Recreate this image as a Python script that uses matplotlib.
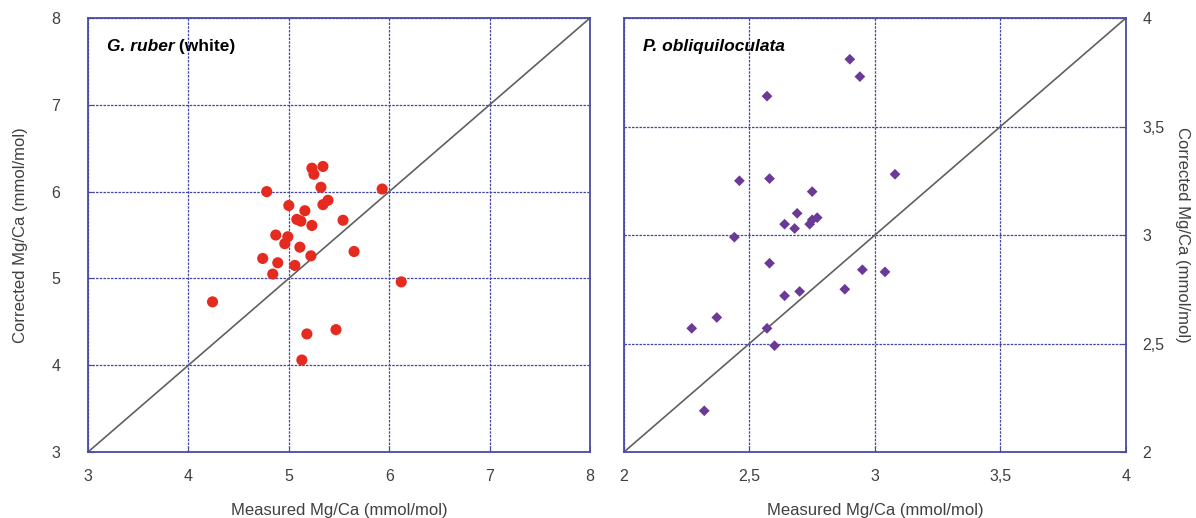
import matplotlib
matplotlib.use("Agg")
import matplotlib.pyplot as plt
from matplotlib.ticker import FuncFormatter

plt.rcParams['font.family'] = ['Liberation Sans', 'DejaVu Sans']

# G. ruber (white): measured vs corrected Mg/Ca
ruber_measured = [5.23, 5.34, 5.25, 4.78, 5.32, 5.93, 5.00, 5.39, 5.34, 5.16,
                  5.08, 5.12, 5.23, 5.54, 4.87, 4.99, 4.96, 5.11, 5.65, 4.74,
                  5.22, 4.89, 5.06, 4.84, 6.12, 4.24, 5.18, 5.47, 5.13]
ruber_corrected = [6.27, 6.29, 6.20, 6.00, 6.05, 6.03, 5.84, 5.90, 5.85, 5.78,
                   5.68, 5.66, 5.61, 5.67, 5.50, 5.48, 5.40, 5.36, 5.31, 5.23,
                   5.26, 5.18, 5.15, 5.05, 4.96, 4.73, 4.36, 4.41, 4.06]

# P. obliquiloculata
obliq_measured = [2.90, 2.94, 2.57, 2.46, 2.58, 3.08, 2.75, 2.69, 2.64, 2.68,
                  2.74, 2.75, 2.77, 2.44, 2.58, 2.95, 3.04, 2.88, 2.70, 2.64,
                  2.37, 2.27, 2.57, 2.60, 2.32]
obliq_corrected = [3.81, 3.73, 3.64, 3.25, 3.26, 3.28, 3.20, 3.10, 3.05, 3.03,
                   3.05, 3.07, 3.08, 2.99, 2.87, 2.84, 2.83, 2.75, 2.74, 2.72,
                   2.62, 2.57, 2.57, 2.49, 2.19]

ruber_ticks = [3, 4, 5, 6, 7, 8]
obliq_ticks = [2, 2.5, 3, 3.5, 4]

spine_col = '#4b4ba6'
grid_col = '#4545a6'
text_col = '#404040'

fig = plt.figure(figsize=(11.96, 5.18), dpi=100)
ax1 = fig.add_axes([0.0736, 0.1274, 0.4197, 0.8378])
ax2 = fig.add_axes([0.5217, 0.1274, 0.4197, 0.8378])


def comma(v, pos):
    return ('%g' % v).replace('.', ',')


def style(ax, ticks):
    ax.set_xlim(ticks[0], ticks[-1])
    ax.set_ylim(ticks[0], ticks[-1])
    ax.set_xticks(ticks)
    ax.set_yticks(ticks)
    ax.xaxis.set_major_formatter(FuncFormatter(comma))
    ax.yaxis.set_major_formatter(FuncFormatter(comma))
    ax.grid(True, color=grid_col, linestyle=(0, (2, 1)), linewidth=0.9)
    ax.set_axisbelow(True)
    for sp in ax.spines.values():
        sp.set_color(spine_col)
        sp.set_linewidth(1.3)
    ax.tick_params(direction='in', length=4, color=spine_col, labelsize=11.5,
                   labelcolor=text_col)
    ax.tick_params(axis='x', pad=12)
    # 1:1 line
    lo, hi = ticks[0], ticks[-1]
    ax.plot([lo, hi], [lo, hi], color='#606060', lw=1.2, zorder=2)
    ax.set_xlabel('Measured Mg/Ca (mmol/mol)', fontsize=12, color=text_col,
                  labelpad=14)


style(ax1, ruber_ticks)
ax1.tick_params(axis='y', pad=20)
ax1.scatter(ruber_measured, ruber_corrected, s=64, marker='o', color='#e52a1f',
            edgecolors='none', zorder=3)
ax1.set_ylabel('Corrected Mg/Ca (mmol/mol)', fontsize=12, color=text_col, labelpad=17)
t = ax1.text(0.037, 0.935, 'G. ruber', transform=ax1.transAxes, fontsize=12.5,
             fontweight='bold', fontstyle='italic', va='center', ha='left')
ax1.annotate(' (white)', xycoords=t, xy=(1, 0.5), va='center', ha='left',
             fontsize=12.5, fontweight='bold')

style(ax2, obliq_ticks)
ax2.scatter(obliq_measured, obliq_corrected, s=30, marker='D', color='#6b3a96',
            edgecolors='none', zorder=3)
ax2.yaxis.tick_right()
ax2.yaxis.set_label_position('right')
ax2.tick_params(axis='y', left=False, right=True, pad=12)
ax2.set_ylabel('Corrected Mg/Ca (mmol/mol)', fontsize=12, color=text_col,
               rotation=-90, labelpad=18)
ax2.text(0.037, 0.935, 'P. obliquiloculata', transform=ax2.transAxes, fontsize=12.5,
         fontweight='bold', fontstyle='italic', va='center', ha='left')

fig.savefig('out.png', dpi=100)
